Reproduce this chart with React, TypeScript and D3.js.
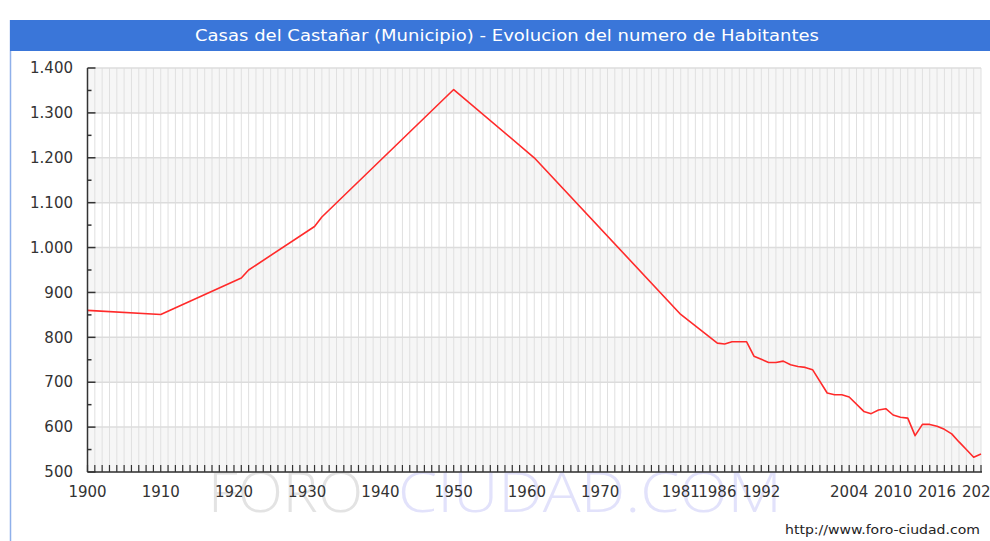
import React from "react";
import * as d3 from "d3";

// census years and inhabitants
const years = [
  1900, 1910, 1921, 1922, 1931, 1932, 1950, 1961, 1981, 1986, 1987, 1988, 1990,
  1991, 1993, 1994, 1995, 1996, 1997, 1998, 1999, 2001, 2002, 2003, 2004, 2006,
  2007, 2008, 2009, 2010, 2011, 2012, 2013, 2014, 2015, 2016, 2017, 2018, 2019,
  2020, 2021, 2022,
];
const population = [
  860, 851, 932, 950, 1047, 1068, 1352, 1200, 851, 787, 785, 790, 790, 758, 744,
  744, 747, 739, 735, 733, 728, 676, 672, 672, 667, 635, 630, 638, 641, 627,
  622, 620, 581, 606, 606, 602, 595, 585, 567, 550, 533, 540,
];
const xTickLabels = [1900, 1910, 1920, 1930, 1940, 1950, 1960, 1970, 1981, 1986, 1992, 2004, 2010, 2016, 2022];
const yTickValues = [500, 600, 700, 800, 900, 1000, 1100, 1200, 1300, 1400];

const title = "Casas del Castañar (Municipio) - Evolucion del numero de Habitantes";
const font = "'DejaVu Sans', Verdana, sans-serif";

const esFormat = d3.formatLocale({
  decimal: ",",
  thousands: ".",
  grouping: [3],
  currency: ["", " €"],
}).format(",");

const App = () => {
  const W = 990;
  const H = 541;
  const plot = { left: 87.5, right: 981, top: 68, bottom: 472 };

  const x = d3.scaleLinear().domain([1900, 2022]).range([plot.left, plot.right]);
  const y = d3.scaleLinear().domain([500, 1400]).range([plot.bottom, plot.top]);

  const line = d3
    .line<number>()
    .x((_, i) => x(years[i]))
    .y((d) => y(d));

  const allYears = d3.range(1900, 2023);
  const halfSteps = d3.range(550, 1400, 100);

  return (
    <svg
      width={W}
      height={H}
      style={{ position: "absolute", left: 0, top: 0, background: "#fff" }}
      fontFamily={font}
    >
      {/* frame + title bar */}
      <line x1={10.5} x2={10.5} y1={20} y2={H} stroke="#8fb0ea" strokeWidth={1.5} />
      <rect x={10} y={20} width={W - 10} height={31} fill="#3a76d9" />
      <text
        x={507}
        y={35.5}
        dy="0.35em"
        textAnchor="middle"
        fill="#fff"
        fontSize={15.5}
        textLength={624}
        lengthAdjust="spacingAndGlyphs"
      >
        {title}
      </text>

      {/* alternating bands */}
      {yTickValues.slice(0, -1).map((v, i) =>
        i % 2 === 0 ? (
          <rect
            key={"band" + v}
            x={plot.left}
            width={plot.right - plot.left}
            y={y(v + 100)}
            height={y(v) - y(v + 100)}
            fill="#f6f6f6"
          />
        ) : null
      )}

      {/* vertical grid, one per year */}
      {allYears.map((yr) => (
        <line key={"vg" + yr} x1={x(yr)} x2={x(yr)} y1={plot.top} y2={plot.bottom} stroke="#e0e0e0" strokeWidth={1} />
      ))}
      {/* horizontal grid */}
      {yTickValues.map((v) => (
        <line key={"hg" + v} x1={plot.left} x2={plot.right} y1={y(v)} y2={y(v)} stroke="#dcdcdc" strokeWidth={1.5} />
      ))}

      {/* watermark */}
      <text x={208} y={512} fontSize={55} fill="#e3e3e3" textLength={155} lengthAdjust="spacingAndGlyphs" fontFamily="'Open Sans', sans-serif" fontWeight={300}>
        FORO
      </text>
      <text x={398} y={512} fontSize={55} fill="#e2e2fb" textLength={384} lengthAdjust="spacingAndGlyphs" fontFamily="'Open Sans', sans-serif" fontWeight={300}>
        CIUDAD.COM
      </text>

      {/* data line */}
      <path d={line(population) || ""} fill="none" stroke="#ff2a2a" strokeWidth={1.6} strokeLinejoin="round" />

      {/* y axis */}
      <line x1={plot.left} x2={plot.left} y1={plot.top} y2={plot.bottom} stroke="#333" strokeWidth={1.5} />
      {yTickValues.map((v) => (
        <g key={"yt" + v}>
          <line x1={plot.left} x2={plot.left + 8} y1={y(v)} y2={y(v)} stroke="#333" strokeWidth={1.5} />
          <text x={73} y={y(v)} dy="0.35em" textAnchor="end" fontSize={15} fill="#333">
            {esFormat(v)}
          </text>
        </g>
      ))}
      {halfSteps.map((v) => (
        <line key={"ym" + v} x1={plot.left} x2={plot.left + 4} y1={y(v)} y2={y(v)} stroke="#333" strokeWidth={1.5} />
      ))}

      {/* x axis */}
      <line x1={plot.left} x2={plot.right + 1} y1={plot.bottom} y2={plot.bottom} stroke="#333" strokeWidth={1.5} />
      {allYears.map((yr) => (
        <line key={"xt" + yr} x1={x(yr)} x2={x(yr)} y1={plot.bottom} y2={plot.bottom - 7} stroke="#333" strokeWidth={1.2} />
      ))}
      {xTickLabels.map((yr) => (
        <text key={"xl" + yr} x={x(yr)} y={492} dy="0.35em" textAnchor="middle" fontSize={15} fill="#333">
          {yr}
        </text>
      ))}

      {/* source */}
      <text x={980} y={534} textAnchor="end" fontSize={13} fill="#222" textLength={195} lengthAdjust="spacingAndGlyphs">
        http://www.foro-ciudad.com
      </text>
    </svg>
  );
};

export default App;
